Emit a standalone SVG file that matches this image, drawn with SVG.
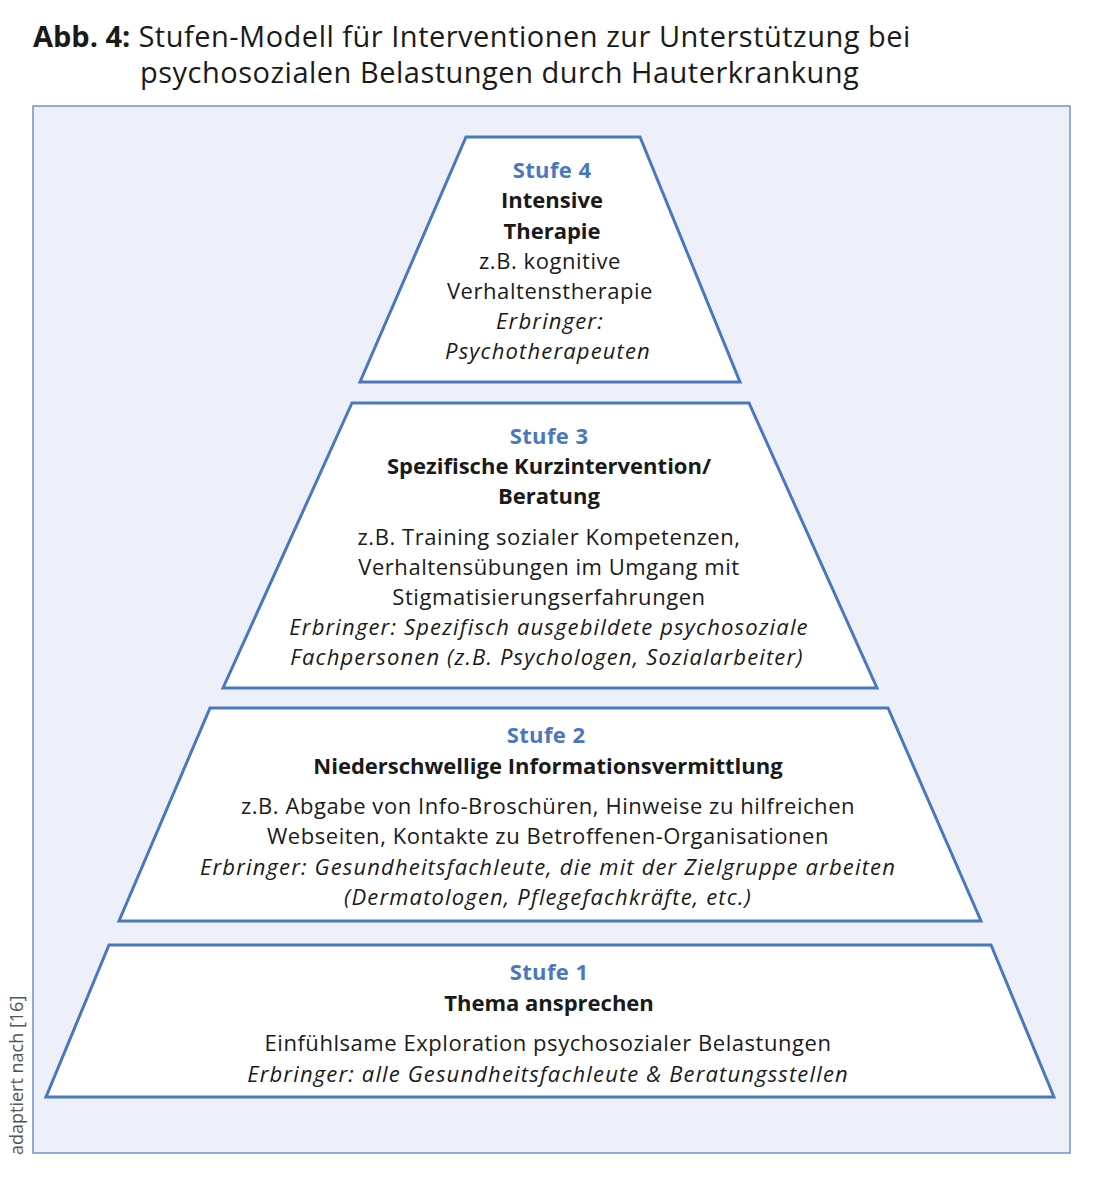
<svg xmlns="http://www.w3.org/2000/svg" width="1100" height="1186" viewBox="0 0 1100 1186">
<style>
.t{font-family:"Open Sans","Liberation Sans",Arial,sans-serif;font-size:22px;fill:#1a1a1a;text-anchor:middle;letter-spacing:0.55px}
.s{font-weight:bold;fill:#4a78be;letter-spacing:0.4px}
.b{font-weight:bold;letter-spacing:0}
.i{font-style:italic;letter-spacing:1.15px}
.tr{fill:#ffffff;stroke:#4a78be;stroke-width:3;stroke-linejoin:miter}
.title{font-family:"Open Sans","Liberation Sans",Arial,sans-serif;font-size:29px;fill:#1a1a1a;letter-spacing:0.5px}
</style>
<rect width="1100" height="1186" fill="#ffffff"/>
<text class="title" x="33" y="47"><tspan font-weight="bold" letter-spacing="0">Abb. 4:</tspan> Stufen-Modell für Interventionen zur Unterstützung bei</text>
<text class="title" x="140" y="83">psychosozialen Belastungen durch Hauterkrankung</text>
<rect x="33" y="106" width="1037" height="1047" fill="#edf0f9" stroke="#6f93cf" stroke-width="1.5"/>
<text x="23" y="1155" transform="rotate(-90 23 1155)" style="font-family:'Open Sans','Liberation Sans',Arial,sans-serif;font-size:18px;fill:#555">adaptiert nach [16]</text>
<g id="stufe4">
<polygon class="tr" points="466,137 640,137 740,382 360,382"/>
<text class="t s" x="552" y="178">Stufe 4</text>
<text class="t b" x="552" y="208">Intensive</text>
<text class="t b" x="552" y="239">Therapie</text>
<text class="t" x="550" y="269">z.B. kognitive</text>
<text class="t" x="550" y="299">Verhaltenstherapie</text>
<text class="t i" x="550" y="329">Erbringer:</text>
<text class="t i" x="548" y="359">Psychotherapeuten</text>
</g>
<g id="stufe3">
<polygon class="tr" points="352,403 749,403 877,688 223,688"/>
<text class="t s" x="549" y="444">Stufe 3</text>
<text class="t b" x="549" y="474">Spezifische Kurzintervention/</text>
<text class="t b" x="549" y="504">Beratung</text>
<text class="t" x="549" y="545">z.B. Training sozialer Kompetenzen,</text>
<text class="t" x="549" y="575">Verhaltensübungen im Umgang mit</text>
<text class="t" x="549" y="605">Stigmatisierungserfahrungen</text>
<text class="t i" x="549" y="635">Erbringer: Spezifisch ausgebildete psychosoziale</text>
<text class="t i" x="547" y="665">Fachpersonen (z.B. Psychologen, Sozialarbeiter)</text>
</g>
<g id="stufe2">
<polygon class="tr" points="210,708 888,708 981,921 119,921"/>
<text class="t s" x="546" y="743">Stufe 2</text>
<text class="t b" x="548" y="774">Niederschwellige Informationsvermittlung</text>
<text class="t" x="548" y="814">z.B. Abgabe von Info-Broschüren, Hinweise zu hilfreichen</text>
<text class="t" x="548" y="844">Webseiten, Kontakte zu Betroffenen-Organisationen</text>
<text class="t i" x="548" y="875">Erbringer: Gesundheitsfachleute, die mit der Zielgruppe arbeiten</text>
<text class="t i" x="548" y="905">(Dermatologen, Pflegefachkräfte, etc.)</text>
</g>
<g id="stufe1">
<polygon class="tr" points="109,945 991,945 1054,1097 46,1097"/>
<text class="t s" x="549" y="980">Stufe 1</text>
<text class="t b" x="549" y="1011">Thema ansprechen</text>
<text class="t" x="548" y="1051">Einfühlsame Exploration psychosozialer Belastungen</text>
<text class="t i" x="548" y="1082">Erbringer: alle Gesundheitsfachleute &amp; Beratungsstellen</text>
</g>
<g id="connectors"/>
</svg>
